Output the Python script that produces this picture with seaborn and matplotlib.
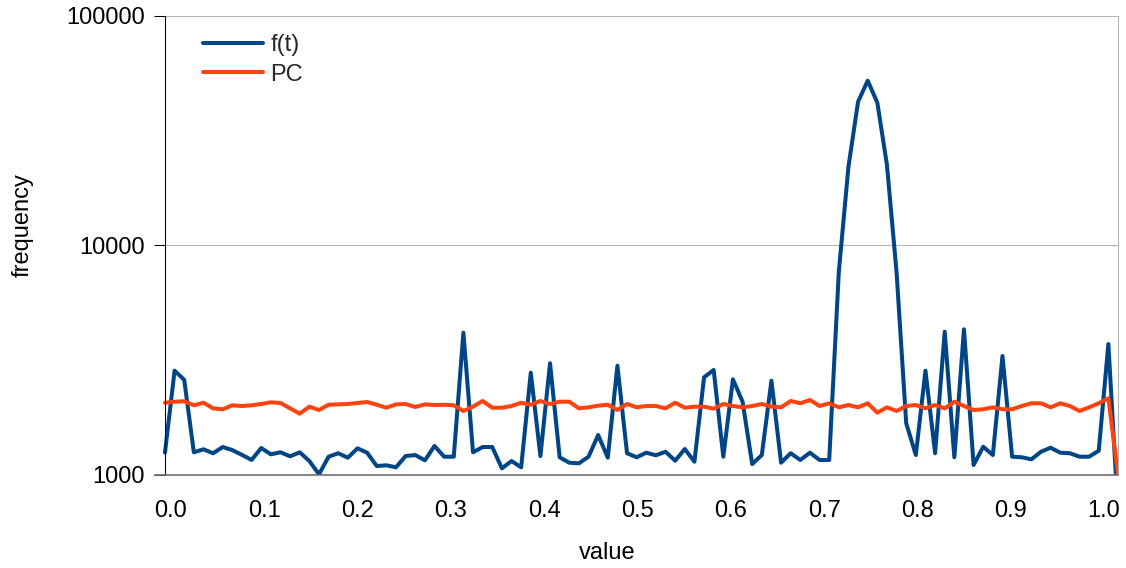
import numpy as np
import pandas as pd
import matplotlib
matplotlib.use("Agg")
import matplotlib.pyplot as plt
import seaborn as sns

# ---- data -------------------------------------------------------------
ft = [
    1247, 2840, 2590, 1252, 1290, 1240, 1320, 1280, 1220, 1160,
    1307, 1227, 1252, 1203, 1252, 1147, 1004, 1198, 1240, 1186,
    1303, 1247, 1091, 1099, 1077, 1206, 1218, 1155, 1334, 1198,
    1198, 4156, 1252, 1320, 1320, 1066, 1147, 1077, 2783, 1206,
    3058, 1191, 1128, 1121, 1198, 1489, 1186, 2985, 1240, 1191,
    1247, 1215, 1259, 1151, 1294, 1139, 2657, 2859, 1198, 2604,
    2080, 1113, 1218, 2568, 1128, 1240, 1159, 1247, 1159, 1159,
    7665, 21980, 42200, 52100, 41800, 22360, 7600, 1675, 1218, 2840,
    1240, 4199, 1191, 4300, 1102, 1324, 1218, 3290, 1198, 1191,
    1167, 1259, 1311, 1247, 1240, 1198, 1198, 1272, 3710, 680,
]
pc = [
    2059, 2080, 2089, 2006, 2059, 1946, 1928, 2006, 1992, 2006,
    2033, 2068, 2053, 1946, 1845, 1979, 1914, 2018, 2025, 2033,
    2053, 2074, 2018, 1958, 2025, 2033, 1972, 2025, 2012, 2018,
    2006, 1895, 1979, 2095, 1958, 1958, 1992, 2059, 2018, 2095,
    2033, 2080, 2080, 1946, 1966, 1999, 2018, 1914, 2033, 1966,
    1992, 1992, 1946, 2059, 1958, 1979, 1979, 1939, 2033, 1992,
    1966, 1992, 2033, 1979, 1966, 2095, 2047, 2116, 1992, 2047,
    1966, 2012, 1966, 2047, 1863, 1966, 1895, 1992, 2012, 1946,
    2012, 1946, 2080, 1992, 1914, 1928, 1966, 1928, 1928, 1992,
    2047, 2047, 1966, 2047, 1992, 1895, 1966, 2047, 2152, 1000,
]
series_names = ["f(t)", "PC"]
series_colors = {"f(t)": "#004586", "PC": "#ff420e"}

# evenly spaced sample positions along the value axis
x_start, x_step = -0.00632, 0.010316
value = x_start + x_step * np.arange(len(ft))

y_ticks = [1000, 10000, 100000]
y_ticklabels = ["1000", "10000", "100000"]
x_ticks = [0.0, 0.1, 0.2, 0.3, 0.4, 0.5, 0.6, 0.7, 0.8, 0.9, 1.0]
x_ticklabels = ["0.0", "0.1", "0.2", "0.3", "0.4", "0.5", "0.6", "0.7", "0.8", "0.9", "1.0"]

df = pd.DataFrame({
    "value": np.concatenate([value, value]),
    "frequency": ft + pc,
    "series": [series_names[0]] * len(ft) + [series_names[1]] * len(pc),
})

# ---- figure -------------------------------------------------------------
sns.set_theme(style="white")
plt.rcParams["font.family"] = ["Liberation Sans", "DejaVu Sans"]
FS = 17

W, H = 1126, 568
fig = plt.figure(figsize=(W / 100, H / 100), dpi=100)
left_px, right_px, top_px, bottom_px = 155, 1118, 15.7, 474.7
ax = fig.add_axes([left_px / W, (H - bottom_px) / H,
                   (right_px - left_px) / W, (bottom_px - top_px) / H])

sns.lineplot(data=df, x="value", y="frequency", hue="series",
             palette=series_colors, hue_order=series_names,
             linewidth=2.9, estimator=None, sort=False, ax=ax)

ax.set_yscale("log")
ax.set_ylim(1000, 100000)
ax.set_xlim(-0.0170, value[-1])

ax.set_yticks(y_ticks)
ax.set_yticklabels(y_ticklabels)
ax.yaxis.set_minor_locator(matplotlib.ticker.NullLocator())
ax.set_xticks(x_ticks)
ax.set_xticklabels(x_ticklabels)

ax.grid(False)
ax.yaxis.grid(True, color="#b3b3b3", linewidth=0.75)
ax.set_axisbelow(True)

ax.spines["top"].set_visible(False)
ax.spines["right"].set_color("#b3b3b3")
ax.spines["right"].set_linewidth(0.75)
ax.spines["bottom"].set_color("#6e6e6e")
ax.spines["bottom"].set_linewidth(1.2)
ax.spines["left"].set_position(("data", value[0]))
ax.spines["left"].set_color("black")
ax.spines["left"].set_linewidth(0.75)

ax.tick_params(axis="y", which="major", direction="out", length=7.9,
               width=0.75, color="black", pad=6.5, labelcolor="black",
               labelsize=FS, left=True)
ax.tick_params(axis="x", which="major", length=0, pad=18,
               labelcolor="black", labelsize=FS, bottom=True)

ax.set_xlabel("value", fontsize=FS, color="black")
ax.set_ylabel("frequency", fontsize=FS, color="black")
ax.xaxis.label.set_va("center")
ax.yaxis.label.set_va("center")
ax.xaxis.set_label_coords((607 - left_px) / (right_px - left_px),
                          (bottom_px - 553) / (bottom_px - top_px))
ax.yaxis.set_label_coords((23 - left_px) / (right_px - left_px),
                          (bottom_px - 225) / (bottom_px - top_px))

handles, labels = ax.get_legend_handles_labels()
ax.legend(handles, labels, frameon=False, fontsize=FS,
          loc="upper left", bbox_to_anchor=(203 / W, (H - 34) / H),
          bbox_transform=fig.transFigure, borderpad=0, borderaxespad=0,
          handlelength=2.55, handletextpad=0.3, labelspacing=0.32)

fig.savefig("out.png", dpi=100, facecolor="white")
